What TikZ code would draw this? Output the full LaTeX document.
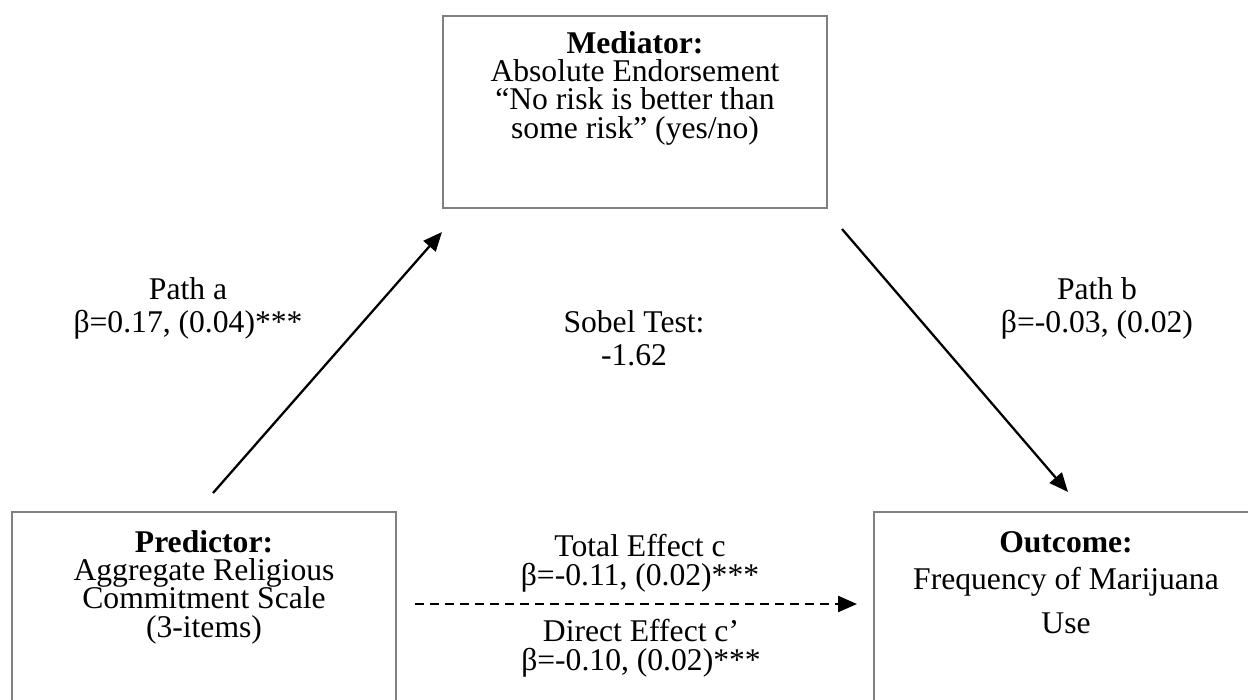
\documentclass[tikz,border=0pt]{standalone}
\usepackage{fontspec}
\setmainfont{Liberation Serif}
\usepackage{xcolor}
\usetikzlibrary{arrows.meta}
\definecolor{boxline}{HTML}{808080}
\definecolor{ink}{HTML}{000000}
\lineskiplimit=-\maxdimen

\begin{document}
\begin{tikzpicture}[x=0.02cm, y=-0.02cm, >={Triangle[length=0.38cm, width=0.32cm]},
  every node/.style={font=\fontsize{18}{16.1}\selectfont, text=ink},
  varbox/.style={draw=boxline, line width=0.8pt, minimum width=7.68cm, minimum height=3.84cm, inner sep=0pt},
  vartext/.style={align=center, anchor=base, inner sep=0pt},
  pathtext/.style={align=center, anchor=base, inner sep=0pt, font=\fontsize{18}{18.7}\selectfont},
  effect/.style={->, line width=1.3pt, ink}]
  \clip (0,0) rectangle (1248,700);
  % variable boxes
  \node[varbox] (med) at (635,112) {};
  \node[varbox] (pred) at (204,608) {};
  \node[varbox] (out) at (1066,608) {};
  % box texts (anchored at the last line)
  \node[vartext] (medtext) at (635,138) {\textbf{Mediator:}\\Absolute Endorsement\\“No risk is better than\\some risk” (yes/no)};
  \node[vartext] (predtext) at (204,637) {\textbf{Predictor:}\\Aggregate Religious\\Commitment Scale\\(3-items)};
  \node[vartext] (outtext) at (1066,633) {\textbf{Outcome:}\\[5.5pt]Frequency of Marijuana\\[8.4pt]Use};
  % path labels
  \node[pathtext] (patha) at (188,332) {Path a\\β=0.17, (0.04)***};
  \node[pathtext] (sobel) at (634,365) {Sobel Test:\\-1.62};
  \node[pathtext] (pathb) at (1097,332) {Path b\\β=-0.03, (0.02)};
  \node[vartext] (total) at (640,585) {Total Effect c\\β=-0.11, (0.02)***};
  \node[vartext] (direct) at (641,670) {Direct Effect c’\\β=-0.10, (0.02)***};
  % arrow ends
  \coordinate (aStart) at (213,493);
  \coordinate (aEnd) at (442,232);
  \coordinate (bStart) at (842,229);
  \coordinate (bEnd) at (1068,492);
  \coordinate (cStart) at (415,604);
  \coordinate (cEnd) at (857,604);
  \draw[effect] (aStart) -- (aEnd);
  \draw[effect] (bStart) -- (bEnd);
  \draw[effect, dash pattern=on 0.18cm off 0.12cm] (cStart) -- (cEnd);
\end{tikzpicture}
\end{document}
